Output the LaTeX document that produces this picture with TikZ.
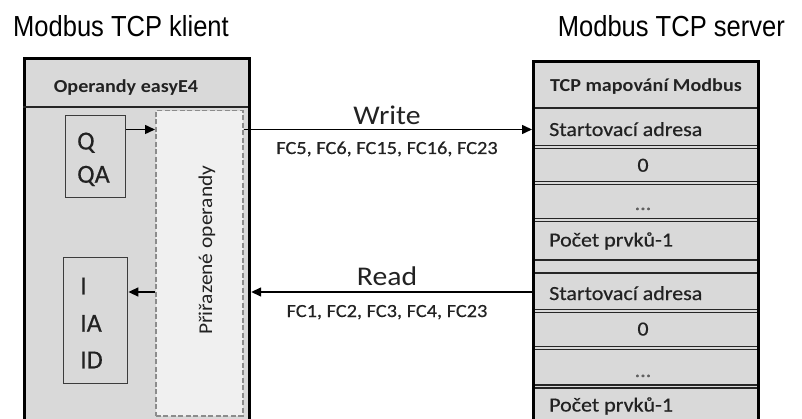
\documentclass[tikz,border=0pt]{standalone}
\usepackage{fontspec}
\usetikzlibrary{arrows.meta}
\newfontfamily\titlefont[FakeStretch=0.88]{Liberation Sans}
\newfontfamily\calf[FakeStretch=1.1]{Carlito}
\newfontfamily\calfb[FakeStretch=1.1,FakeBold=0.5]{Carlito}
\newfontfamily\calp[FakeBold=0.4]{Carlito}
\definecolor{boxgray}{HTML}{D9D9D9}
\definecolor{lightfill}{HTML}{F0F0F0}
\definecolor{dashgray}{HTML}{8C8C8C}
\definecolor{edgegray}{HTML}{3C3C3C}
\definecolor{txt}{HTML}{222222}
\definecolor{dotgray}{HTML}{606060}
\begin{document}
\begin{tikzpicture}[x=1pt,y=-1pt,
  frame/.style={draw=black,line width=3.2pt,fill=boxgray,inner sep=0pt,anchor=north west},
  opbox/.style={draw=edgegray,line width=1.4pt,fill=boxgray,inner sep=0pt,anchor=north west},
  assignbox/.style={draw=dashgray,dashed,dash pattern=on 5pt off 2.5pt,line width=1.5pt,fill=lightfill,inner sep=0pt,anchor=north west},
  sepline/.style={draw=black!85,line width=1.3pt},
  arr/.style={draw=black,line width=1.5pt,-{Triangle[length=10pt,width=9pt]}},
  title/.style={font=\titlefont\fontsize{29}{32}\selectfont,inner sep=0pt,text=black},
  head/.style={font=\calf\bfseries\fontsize{18.3}{20}\selectfont,inner sep=0pt,text=txt},
  cell/.style={font=\calfb\fontsize{20}{22}\selectfont,inner sep=0pt,text=txt},
  lbl/.style={font=\calfb\fontsize{18.5}{20}\selectfont,inner sep=0pt,text=txt},
  big/.style={font=\calf\fontsize{27}{30}\selectfont,inner sep=0pt,text=txt},
  op/.style={font=\calp\fontsize{26}{28}\selectfont,inner sep=0pt,text=txt,anchor=base west}]
\useasboundingbox (0,0) rectangle (802,419);
\clip (0,0) rectangle (802,419);
\fill[white] (0,0) rectangle (802,419);

% titles
\node[title,anchor=base west] (tclient) at (13,37) {Modbus TCP klient};
\node[title,anchor=base east] (tserver) at (785,37) {Modbus TCP server};

% client box
\node[frame,minimum width=225,minimum height=390] (client) at (23,57) {};
\draw[line width=2pt,black!85] (23,107) -- (248,107);
\node[head,anchor=base] (chead) at (126,92.5) {Operandy easyE4};

\node[assignbox,minimum width=87,minimum height=305] (assign) at (155,110) {};
\node[font=\calf\fontsize{19.5}{21}\selectfont,inner sep=0pt,text=txt,rotate=90,anchor=base west] (assigntxt) at (212,335) {Přiřazené operandy};

\node[opbox,minimum width=60,minimum height=82] (qbox) at (65,115) {};
\node[op] (q) at (77,149.5) {Q};
\node[op] (qa) at (77,182.7) {QA};

\node[opbox,minimum width=64,minimum height=126] (ibox) at (63,257) {};
\node[op] (i) at (80,294.3) {I};
\node[op] (ia) at (80,331.7) {IA};
\node[op] (id) at (80,368.3) {ID};

% server box
\node[frame,minimum width=225,minimum height=400,line width=3pt] (server) at (532,60) {};
\draw[line width=2pt,black!85] (532,108) -- (757,108);
\draw[sepline] (532,145.5) -- (757,145.5);
\draw[sepline] (532,148.7) -- (757,148.7);
\draw[sepline,line width=1.6pt] (532,181.6) -- (757,181.6);
\draw[sepline,line width=1.6pt] (532,184.4) -- (757,184.4);
\draw[sepline] (532,218.5) -- (757,218.5);
\draw[sepline] (532,221.7) -- (757,221.7);
\draw[sepline,line width=1.5pt] (532,260) -- (757,260);
\draw[sepline,line width=1.8pt] (532,272.8) -- (757,272.8);
\draw[sepline] (532,309.5) -- (757,309.5);
\draw[sepline] (532,312.7) -- (757,312.7);
\draw[sepline,line width=1.6pt] (532,346.6) -- (757,346.6);
\draw[sepline,line width=1.6pt] (532,349.4) -- (757,349.4);
\draw[sepline,line width=1.6pt] (532,385) -- (757,385);
\draw[sepline,line width=1.6pt] (532,388) -- (757,388);
\node[frame,minimum width=225,minimum height=400,line width=3pt,fill=none] (serverframe) at (532,60) {};

\node[head,anchor=base] (shead) at (646,91.7) {TCP mapování Modbus};
\node[cell,anchor=base west] (s1) at (549,136) {Startovací adresa};
\node[cell,anchor=base] (z1) at (643,171.7) {0};
\node[cell,anchor=base,text=dotgray] (d1) at (643,210) {...};
\node[cell,anchor=base west] (p1) at (549,246.5) {Počet prvků-1};
\node[cell,anchor=base west] (s2) at (549,300) {Startovací adresa};
\node[cell,anchor=base] (z2) at (643,335.5) {0};
\node[cell,anchor=base,text=dotgray] (d2) at (643,377) {...};
\node[cell,anchor=base west] (p2) at (549,411.5) {Počet prvků-1};

% connectors
\coordinate (wy) at (0,129.5);
\coordinate (ry) at (0,292);
\draw[arr] (qbox.east |- wy) -- (assign.west |- wy);
\draw[arr] (assign.east |- wy) -- (server.west |- wy);
\draw[arr] (server.west |- ry) -- (client.east |- ry);
\draw[arr] (assign.west |- ry) -- (ibox.east |- ry);

\node[big,anchor=base] (write) at (387,125) {Write};
\node[lbl,anchor=base] (wfc) at (387,154) {FC5, FC6, FC15, FC16, FC23};
\node[big,anchor=base] (read) at (387,285) {Read};
\node[lbl,anchor=base] (rfc) at (387,317) {FC1, FC2, FC3, FC4, FC23};
\end{tikzpicture}
\end{document}
